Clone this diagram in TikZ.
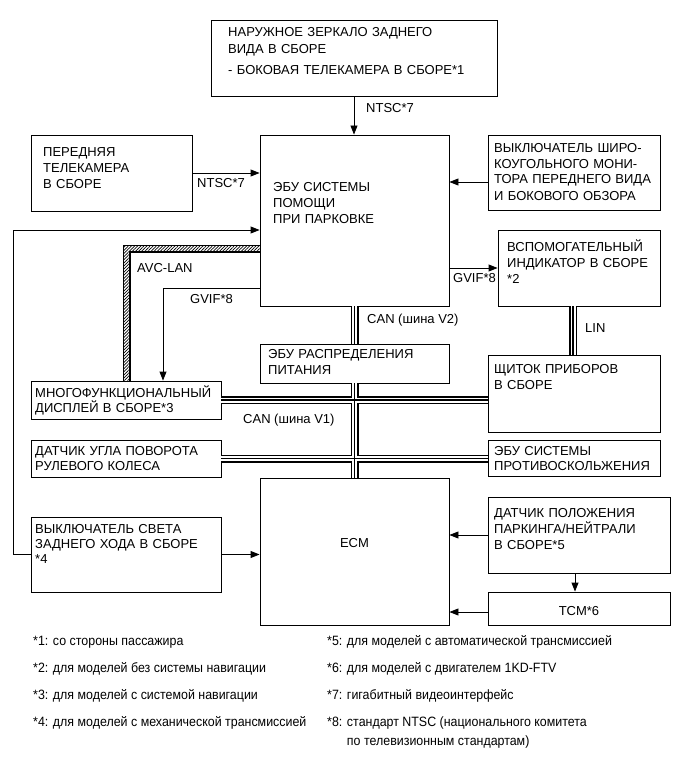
\documentclass[tikz,border=0pt]{standalone}
\usepackage{fontspec}
\setmainfont{Liberation Sans}
\newfontfamily\legfont[FakeStretch=0.92]{Liberation Sans}
\usetikzlibrary{arrows.meta,patterns.meta,calc}
\begin{document}
\begin{tikzpicture}[x=1pt,y=-1pt,
  bx/.style 2 args={draw,line width=0.9pt,inner sep=0pt,minimum width=#1,minimum height=#2},
  txt/.style={anchor=base west,inner sep=0pt,align=left,text width=240pt,font=\fontsize{13}{16}\selectfont},
  txtc/.style={anchor=base,inner sep=0pt,font=\fontsize{13}{16}\selectfont},
  lbl/.style={anchor=base west,inner sep=0pt,font=\fontsize{13}{16}\selectfont},
  leg/.style={anchor=base west,inner sep=0pt,font=\legfont\fontsize{13.5}{16}\selectfont},
  ln/.style={line width=0.9pt},
  arr/.style={line width=0.9pt,-{Triangle[length=9pt,width=7pt]}},
  busouter/.style={line width=8pt,black},
  busgap/.style={line width=5pt,white},
  buscore/.style={line width=1.1pt,black}]
\useasboundingbox (0,0) rectangle (690,757);
\fill[white] (0,0) rectangle (690,757);

% boxes
\node[bx={286pt}{76pt}] (mirror) at (354,58) {};
\node[bx={189pt}{171pt}] (ecu) at (354.5,220.5) {};
\node[bx={161pt}{76pt}] (cam) at (111.5,173) {};
\node[bx={172pt}{75pt}] (sw) at (574,172.5) {};
\node[bx={162pt}{76pt}] (aux) at (579,268) {};
\node[bx={189pt}{39pt}] (pwr) at (354.5,363.5) {};
\node[bx={190pt}{38pt}] (mfd) at (126,400) {};
\node[bx={172pt}{77pt}] (inst) at (574,393.5) {};
\node[bx={190pt}{37pt}] (steer) at (126,458.5) {};
\node[bx={172pt}{36pt}] (skid) at (574,458) {};
\node[bx={189pt}{147pt}] (ecm) at (354.5,551.5) {};
\node[bx={190pt}{75pt}] (rev) at (126,554.5) {};
\node[bx={182pt}{76pt}] (park) at (579,535) {};
\node[bx={182pt}{33pt}] (tcm) at (579,608.5) {};

% box texts
\node[txt,font=\fontsize{13}{17}\selectfont] (tmirror) at (228,37) {НАРУЖНОЕ ЗЕРКАЛО ЗАДНЕГО\\ВИДА В СБОРЕ\\[4pt]- БОКОВАЯ ТЕЛЕКАМЕРА В СБОРЕ*1};
\node[txt] (tecu) at (273,191) {ЭБУ СИСТЕМЫ\\ПОМОЩИ\\ПРИ ПАРКОВКЕ};
\node[txt] (tcam) at (43,157) {ПЕРЕДНЯЯ\\ТЕЛЕКАМЕРА\\В СБОРЕ};
\node[txt] (tsw) at (494,152) {ВЫКЛЮЧАТЕЛЬ ШИРО-\\КОУГОЛЬНОГО МОНИ-\\ТОРА ПЕРЕДНЕГО ВИДА\\И БОКОВОГО ОБЗОРА};
\node[txt] (taux) at (507,251) {ВСПОМОГАТЕЛЬНЫЙ\\ИНДИКАТОР В СБОРЕ\\{}*2};
\node[txt] (tpwr) at (268,358) {ЭБУ РАСПРЕДЕЛЕНИЯ\\ПИТАНИЯ};
\node[txt,font=\fontsize{13}{15.5}\selectfont] (tmfd) at (35,397) {МНОГОФУНКЦИОНАЛЬНЫЙ\\ДИСПЛЕЙ В СБОРЕ*3};
\node[txt] (tinst) at (494,373) {ЩИТОК ПРИБОРОВ\\В СБОРЕ};
\node[txt,font=\fontsize{13}{15}\selectfont] (tsteer) at (35,455) {ДАТЧИК УГЛА ПОВОРОТА\\РУЛЕВОГО КОЛЕСА};
\node[txt,font=\fontsize{13}{15}\selectfont] (tskid) at (494,455) {ЭБУ СИСТЕМЫ\\ПРОТИВОСКОЛЬЖЕНИЯ};
\node[txt,font=\fontsize{13}{15}\selectfont] (trev) at (35,533) {ВЫКЛЮЧАТЕЛЬ СВЕТА\\ЗАДНЕГО ХОДА В СБОРЕ\\{}*4};
\node[txt] (tpark) at (494,517) {ДАТЧИК ПОЛОЖЕНИЯ\\ПАРКИНГА/НЕЙТРАЛИ\\В СБОРЕ*5};
\node[txtc] (ttcm) at (579,615) {TCM*6};
\node[txtc] (tecm) at (354.5,547) {ECM};

% AVC-LAN hatched band
\fill[pattern={Lines[angle=45,distance=2.2pt,line width=0.7pt]}]
  (123,0 |- mfd.north) -- (123,245) -- (ecu.west |- 0,245) -- (ecu.west |- 0,252) -- (130,252) -- (130,0 |- mfd.north) -- cycle;
\draw[line width=0.5pt] (123,0 |- mfd.north) -- (123,245) -- (ecu.west |- 0,245);
\draw[line width=1.2pt] (ecu.west |- 0,252) -- (130,252) -- (130,0 |- mfd.north);

% buses (triple line)
\newcommand\mybuspaths[1]{%
  \draw[#1] (ecu.south) -- (pwr.north);
  \draw[#1] (pwr.south) -- (ecm.north);
  \draw[#1] (mfd.east) -- (mfd.east -| inst.west);
  \draw[#1] (steer.east) -- (steer.east -| skid.west);
  \draw[#1] ([xshift=-6pt]aux.south) -- ([xshift=-6pt]aux.south |- inst.north);
}
\mybuspaths{busouter}
\mybuspaths{busgap}
\mybuspaths{buscore}

% arrows
\draw[arr] (mirror.south) -- (mirror.south |- ecu.north);
\draw[arr] (cam.east) -- (cam.east -| ecu.west);
\draw[arr] ([yshift=-9.5pt]sw.west) -- ([yshift=-9.5pt]sw.west -| ecu.east);
\draw[arr] (aux.west -| ecu.east) -- (aux.west);
\draw[arr] (rev.west) -- ++(-17,0) |- ([yshift=-9.5pt]ecu.west);
\draw[arr] ([yshift=-67.5pt]ecu.west) -| ([xshift=37pt]mfd.north);
\draw[arr] (rev.east) -- (rev.east -| ecm.west);
\draw[arr] (park.west) -- (park.west -| ecm.east);
\draw[arr] ([xshift=-4pt]park.south) -- ([xshift=-4pt]park.south |- tcm.north);
\draw[arr] ([yshift=-3.5pt]tcm.west) -- ([yshift=-3.5pt]tcm.west -| ecm.east);

% connector labels
\node[lbl] (l1) at (366,113) {NTSC*7};
\node[lbl] (l2) at (197,187) {NTSC*7};
\node[lbl] (l3) at (137,272) {AVC-LAN};
\node[lbl] (l4) at (190,303) {GVIF*8};
\node[lbl] (l5) at (453,282) {GVIF*8};
\node[lbl] (l6) at (367,323) {CAN (шина V2)};
\node[lbl] (l7) at (585,332) {LIN};
\node[lbl] (l8) at (243,423) {CAN (шина V1)};

% legend
\node[leg] (n1) at (33,645) {*1: со стороны пассажира};
\node[leg] (n2) at (33,672) {*2: для моделей без системы навигации};
\node[leg] (n3) at (33,699) {*3: для моделей с системой навигации};
\node[leg] (n4) at (33,726) {*4: для моделей с механической трансмиссией};
\node[leg] (n5) at (327,645) {*5: для моделей с автоматической трансмиссией};
\node[leg] (n6) at (327,672) {*6: для моделей с двигателем 1KD-FTV};
\node[leg] (n7) at (327,699) {*7: гигабитный видеоинтерфейс};
\node[leg,align=left] (n8) at (327,726) {*8: \parbox[t]{320pt}{\legfont\fontsize{13.5}{19}\selectfont стандарт NTSC (национального комитета\\по телевизионным стандартам)}};
\end{tikzpicture}
\end{document}
